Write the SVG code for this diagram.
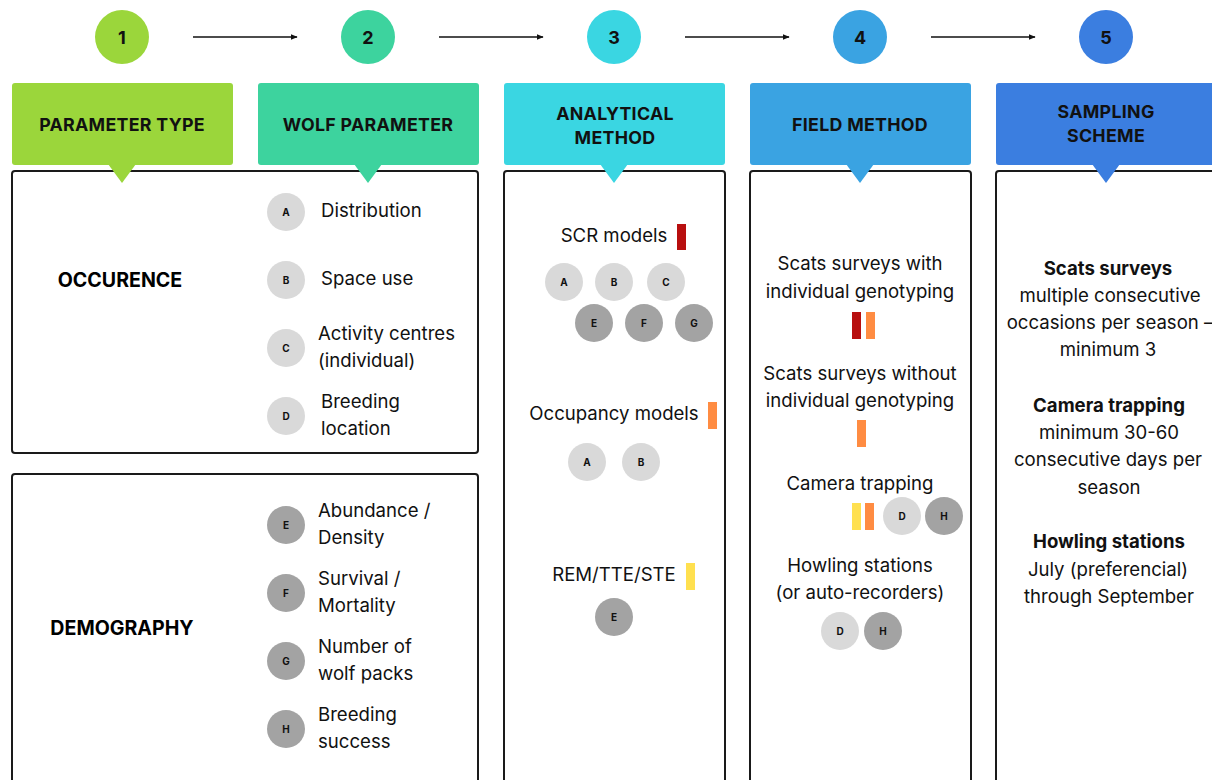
<svg xmlns="http://www.w3.org/2000/svg" width="1212" height="780" viewBox="0 0 1212 780">
<style>
.hd{font-family:Inter,"Noto Sans",sans-serif;font-weight:700;font-size:17.8px;fill:#111;text-anchor:middle;letter-spacing:0.3px}
.num{font-family:Inter,"Noto Sans",sans-serif;font-weight:700;font-size:18px;fill:#111;text-anchor:middle}
.cat{font-family:Inter,"Noto Sans",sans-serif;font-weight:700;font-size:19.6px;fill:#000;text-anchor:middle}
.t{font-family:Inter,"Noto Sans",sans-serif;font-size:18.6px;fill:#111}
.tc{font-family:Inter,"Noto Sans",sans-serif;font-size:18.6px;fill:#111;text-anchor:middle}
.tb{font-family:Inter,"Noto Sans",sans-serif;font-size:18.6px;font-weight:700;fill:#111;text-anchor:middle}
.lt{fill:#d9d9d9}
.dk{fill:#a3a3a3}
.cl{font-family:Inter,"Noto Sans",sans-serif;font-weight:700;font-size:10px;fill:#111;text-anchor:middle}
.box{fill:#fff;stroke:#1a1a1a;stroke-width:2}
.red{fill:#b80f0f}
.org{fill:#ff8c42}
.yel{fill:#ffe04f}
</style>
<defs>
<marker id="ah" viewBox="0 0 10 10" refX="9" refY="5" markerWidth="7" markerHeight="7" orient="auto" markerUnits="userSpaceOnUse">
<path d="M0,1 L10,5 L0,9 z" fill="#111"/>
</marker>
</defs>
<rect width="1212" height="780" fill="#fff"/>

<g id="connectors" stroke="#111" stroke-width="1.5" fill="none">
<line x1="193" y1="37" x2="297" y2="37" marker-end="url(#ah)"/>
<line x1="439" y1="37" x2="543" y2="37" marker-end="url(#ah)"/>
<line x1="685" y1="37" x2="789" y2="37" marker-end="url(#ah)"/>
<line x1="931" y1="37" x2="1035" y2="37" marker-end="url(#ah)"/>
</g>

<g id="step1"><circle cx="122" cy="37" r="27" fill="#9bd63b"/><text class="num" x="122" y="44">1</text></g>
<g id="step2"><circle cx="368" cy="37" r="27" fill="#3dd39e"/><text class="num" x="368" y="44">2</text></g>
<g id="step3"><circle cx="614" cy="37" r="27" fill="#3ad6e2"/><text class="num" x="614" y="44">3</text></g>
<g id="step4"><circle cx="860" cy="37" r="27" fill="#3aa3e2"/><text class="num" x="860" y="44">4</text></g>
<g id="step5"><circle cx="1106" cy="37" r="27" fill="#3b7ee0"/><text class="num" x="1106" y="44">5</text></g>

<g id="box-occurrence">
<rect class="box" x="12" y="171" width="466" height="282" rx="3"/>
<text class="cat" x="120" y="287">OCCURENCE</text>
<circle class="lt" cx="286" cy="212" r="19"/><text class="cl" x="286" y="216">A</text>
<text class="t" x="321" y="217">Distribution</text>
<circle class="lt" cx="286" cy="280" r="19"/><text class="cl" x="286" y="284">B</text>
<text class="t" x="321" y="285">Space use</text>
<circle class="lt" cx="286" cy="348" r="19"/><text class="cl" x="286" y="352">C</text>
<text class="t" x="318" y="340">Activity centres</text>
<text class="t" x="318" y="367">(individual)</text>
<circle class="lt" cx="286" cy="416" r="19"/><text class="cl" x="286" y="420">D</text>
<text class="t" x="321" y="408">Breeding</text>
<text class="t" x="321" y="435">location</text>
</g>

<g id="box-demography">
<rect class="box" x="12" y="474" width="466" height="330" rx="3"/>
<text class="cat" x="122" y="635">DEMOGRAPHY</text>
<circle class="dk" cx="286" cy="525" r="19"/><text class="cl" x="286" y="529">E</text>
<text class="t" x="318" y="517">Abundance /</text>
<text class="t" x="318" y="544">Density</text>
<circle class="dk" cx="286" cy="593" r="19"/><text class="cl" x="286" y="597">F</text>
<text class="t" x="318" y="585">Survival /</text>
<text class="t" x="318" y="612">Mortality</text>
<circle class="dk" cx="286" cy="661" r="19"/><text class="cl" x="286" y="665">G</text>
<text class="t" x="318" y="653">Number of</text>
<text class="t" x="318" y="680">wolf packs</text>
<circle class="dk" cx="286" cy="729" r="19"/><text class="cl" x="286" y="733">H</text>
<text class="t" x="318" y="721">Breeding</text>
<text class="t" x="318" y="748">success</text>
</g>

<g id="box-analytical">
<rect class="box" x="504" y="171" width="221" height="640" rx="3"/>
<text class="tc" x="614" y="242">SCR models</text>
<rect class="red" x="677" y="224" width="9" height="26"/>
<circle class="lt" cx="564" cy="282" r="19"/><text class="cl" x="564" y="286">A</text>
<circle class="lt" cx="614" cy="282" r="19"/><text class="cl" x="614" y="286">B</text>
<circle class="lt" cx="666" cy="282" r="19"/><text class="cl" x="666" y="286">C</text>
<circle class="dk" cx="594" cy="323" r="19"/><text class="cl" x="594" y="327">E</text>
<circle class="dk" cx="644" cy="323" r="19"/><text class="cl" x="644" y="327">F</text>
<circle class="dk" cx="694" cy="323" r="19"/><text class="cl" x="694" y="327">G</text>
<text class="tc" x="614" y="420">Occupancy models</text>
<rect class="org" x="708" y="402" width="9" height="27"/>
<circle class="lt" cx="587" cy="462" r="19"/><text class="cl" x="587" y="466">A</text>
<circle class="lt" cx="641" cy="462" r="19"/><text class="cl" x="641" y="466">B</text>
<text class="tc" x="614" y="581">REM/TTE/STE</text>
<rect class="yel" x="686" y="563" width="9" height="27"/>
<circle class="dk" cx="614" cy="617" r="19"/><text class="cl" x="614" y="621">E</text>
</g>

<g id="box-field">
<rect class="box" x="750" y="171" width="221" height="640" rx="3"/>
<text class="tc" x="860" y="270">Scats surveys with</text>
<text class="tc" x="860" y="298">individual genotyping</text>
<rect class="red" x="852" y="312" width="9" height="27"/>
<rect class="org" x="866" y="312" width="9" height="27"/>
<text class="tc" x="860" y="380">Scats surveys without</text>
<text class="tc" x="860" y="407">individual genotyping</text>
<rect class="org" x="857" y="420" width="9" height="27"/>
<text class="tc" x="860" y="490">Camera trapping</text>
<rect class="yel" x="852" y="503" width="9" height="27"/>
<rect class="org" x="865" y="503" width="9" height="27"/>
<circle class="lt" cx="902" cy="516" r="19"/><text class="cl" x="902" y="520">D</text>
<circle class="dk" cx="944" cy="516" r="19"/><text class="cl" x="944" y="520">H</text>
<text class="tc" x="860" y="572">Howling stations</text>
<text class="tc" x="860" y="599">(or auto-recorders)</text>
<circle class="lt" cx="840" cy="631" r="19"/><text class="cl" x="840" y="635">D</text>
<circle class="dk" cx="883" cy="631" r="19"/><text class="cl" x="883" y="635">H</text>
</g>

<g id="box-sampling">
<rect class="box" x="996" y="171" width="260" height="640" rx="3"/>
<text class="tb" x="1108" y="275">Scats surveys</text>
<text class="tc" x="1110" y="302">multiple consecutive</text>
<text class="tc" x="1110" y="329">occasions per season –</text>
<text class="tc" x="1108" y="356">minimum 3</text>
<text class="tb" x="1109" y="412">Camera trapping</text>
<text class="tc" x="1109" y="439">minimum 30-60</text>
<text class="tc" x="1108" y="466">consecutive days per</text>
<text class="tc" x="1109" y="494">season</text>
<text class="tb" x="1109" y="548">Howling stations</text>
<text class="tc" x="1108" y="576">July (preferencial)</text>
<text class="tc" x="1109" y="603">through September</text>
</g>

<g id="hdr1"><rect x="12" y="83" width="221" height="82" rx="3" fill="#9bd63b"/><path d="M108,164 L136,164 L122,183 z" fill="#9bd63b"/><text class="hd" x="122" y="131">PARAMETER TYPE</text></g>
<g id="hdr2"><rect x="258" y="83" width="221" height="82" rx="3" fill="#3dd39e"/><path d="M354,164 L382,164 L368,183 z" fill="#3dd39e"/><text class="hd" x="368" y="131">WOLF PARAMETER</text></g>
<g id="hdr3"><rect x="504" y="83" width="221" height="82" rx="3" fill="#3ad6e2"/><path d="M600,164 L628,164 L614,183 z" fill="#3ad6e2"/><text class="hd" x="615" y="120">ANALYTICAL</text><text class="hd" x="615" y="144">METHOD</text></g>
<g id="hdr4"><rect x="750" y="83" width="221" height="82" rx="3" fill="#3aa3e2"/><path d="M846,164 L874,164 L860,183 z" fill="#3aa3e2"/><text class="hd" x="860" y="131">FIELD METHOD</text></g>
<g id="hdr5"><rect x="996" y="83" width="240" height="82" rx="3" fill="#3b7ee0"/><path d="M1092,164 L1120,164 L1106,183 z" fill="#3b7ee0"/><text class="hd" x="1106" y="118">SAMPLING</text><text class="hd" x="1106" y="142">SCHEME</text></g>
</svg>
